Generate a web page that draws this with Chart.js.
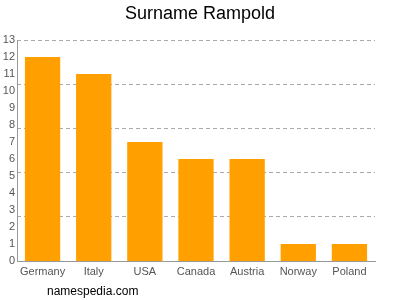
<!DOCTYPE html>
<html>
<head>
<meta charset="utf-8">
<script src="https://cdn.jsdelivr.net/npm/chart.js@4"></script>
<style>
  html, body { margin: 0; padding: 0; background: #fff; }
  #wrap { width: 400px; height: 300px; position: relative; }
</style>
</head>
<body>
<div id="wrap"><canvas id="surnameChart" width="400" height="300"></canvas></div>
<script>
const countries = ["Germany", "Italy", "USA", "Canada", "Austria", "Norway", "Poland"];
const counts = [12, 11, 7, 6, 6, 1, 1];
const yTicks = [0, 1, 2, 3, 4, 5, 6, 7, 8, 9, 10, 11, 12, 13];
const gridLevels = [0, 2.6, 5.2, 7.8, 10.4, 13];
const chartTitle = "Surname Rampold";
const siteName = "namespedia.com";

const FONT = "'Liberation Sans', Arial, sans-serif";

// title and site name drawn as text on the canvas
const textPlugin = {
  id: "texts",
  afterDraw(chart) {
    const ctx = chart.ctx;
    ctx.save();
    ctx.fillStyle = "#000";
    ctx.textAlign = "center";
    ctx.textBaseline = "middle";
    ctx.font = "18px " + FONT;
    ctx.fillText(chartTitle, 200, 14);
    ctx.textAlign = "left";
    ctx.font = "12px " + FONT;
    ctx.fillText(siteName, 47, 292);
    ctx.restore();
  },
};

const ctx = document.getElementById("surnameChart").getContext("2d");
new Chart(ctx, {
  type: "bar",
  data: {
    labels: countries,
    datasets: [
      {
        data: counts,
        backgroundColor: "rgb(255,160,0)",
        borderWidth: 0,
        categoryPercentage: 0.69,
        barPercentage: 1,
      },
    ],
  },
  options: {
    responsive: false,
    animation: false,
    layout: { padding: { top: 40, right: 25, left: 0, bottom: 0 } },
    plugins: { legend: { display: false }, tooltip: { enabled: false } },
    scales: {
      x: {
        grid: { display: false, drawTicks: false, tickLength: 0 },
        border: { display: true, color: "#999" },
        ticks: {
          color: "#555",
          font: { family: FONT, size: 11 },
          padding: 4,
          maxRotation: 0,
          minRotation: 0,
          autoSkip: false,
        },
        afterFit(scale) { scale.height = 39; },
      },
      y: {
        min: 0,
        max: 13,
        afterBuildTicks(scale) { scale.ticks = yTicks.map((v) => ({ value: v })); },
        grid: { display: false, drawTicks: false, tickLength: 0 },
        border: { display: true, color: "#999" },
        ticks: { color: "#555", font: { family: FONT, size: 11 }, padding: 2 },
        afterFit(scale) { scale.width = 17; },
      },
      yg: {
        position: "left",
        min: 0,
        max: 13,
        afterBuildTicks(scale) { scale.ticks = gridLevels.map((v) => ({ value: v })); },
        grid: {
          color: (c) => (c.tick && c.tick.value === 0 ? "rgba(0,0,0,0)" : "#aaa"),
          drawTicks: false,
          tickLength: 0,
        },
        border: { display: false, dash: [4, 3] },
        ticks: { display: false },
        afterFit(scale) { scale.width = 0; },
      },
    },
  },
  plugins: [textPlugin],
});
</script>
</body>
</html>
